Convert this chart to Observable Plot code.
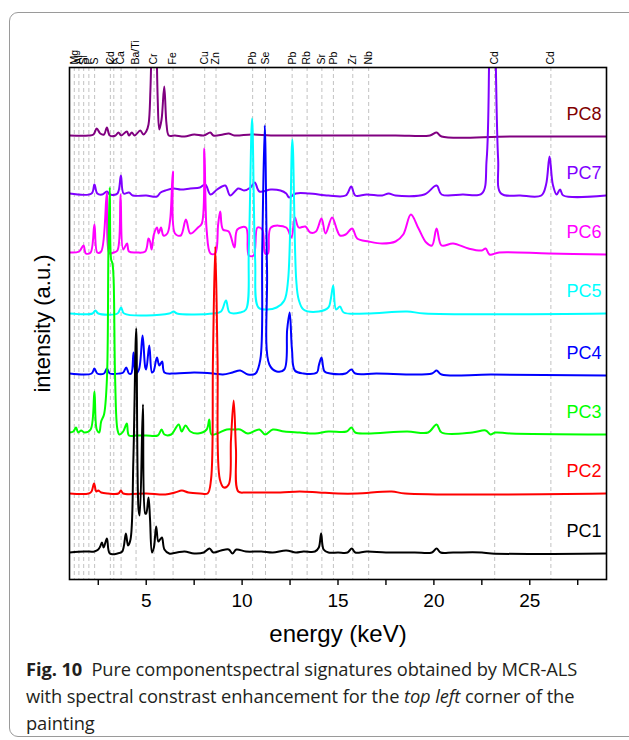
<!DOCTYPE html>
<html>
<head>
<meta charset="utf-8">
<script src="https://cdn.jsdelivr.net/npm/d3@7"></script>
<script src="https://cdn.jsdelivr.net/npm/@observablehq/plot@0.6"></script>
<style>
  html, body { margin: 0; padding: 0; background: #fff; }
  body { width: 629px; height: 740px; overflow: hidden; position: relative; }
  #box { position: absolute; left: 9px; top: 12px; width: 700px; height: 723px; border: 1px solid #9a9a9a; border-radius: 9px; }
  #chart { position: absolute; left: 0; top: 0; }
  #cap { position: absolute; left: 26px; top: 655px; font-family: "Open Sans", sans-serif; font-size: 18.3px; line-height: 27px; color: #231f20; white-space: nowrap; letter-spacing: -0.1px; }
  #cap b { font-weight: 700; }
</style>
</head>
<body>
<div id="box"></div>
<div id="chart"></div>
<div id="cap"><b>Fig. 10</b>&nbsp; Pure componentspectral signatures obtained by MCR-ALS<br>with spectral constrast enhancement for the <i>top left</i> corner of the<br>painting</div>
<script>
// element lines (keV) and their labels
const elementNames = ["Mg","Al","Si","P","S","Cd","K","Ca","Ba/Ti","Cr","Fe","Cu","Zn","Pb","Se","Pb","Rb","Sr","Pb","Zr","Nb","Cd","Cd"];
const elementEnergies = [1.25,1.49,1.74,2.01,2.31,3.13,3.31,3.69,4.47,5.41,6.40,8.05,8.64,10.55,11.22,12.61,13.39,14.16,14.76,15.77,16.6,23.17,26.1];

// x-axis ticks
const xTicks = [2.5,5,7.5,10,12.5,15,17.5,20,22.5,25,27.5];
const xTickLabels = ["","5","","10","","15","","20","","25",""];

// series names and colours
const seriesNames = ["PC1","PC2","PC3","PC4","PC5","PC6","PC7","PC8"];
const lineColors = ["#000000","#ff0000","#00ff00","#0000ff","#00ffff","#ff00ff","#8000ff","#800080"];
const labelColors = ["#000000","#ff0000","#00ff00","#0000ff","#00ffff","#ff00ff","#8000ff","#800000"];

// spectra: [energy keV, stacked intensity a.u.]
const pc1 = [[1.0,27],[1.8,28],[2.3,28],[2.5,30],[2.6,33],[2.69,37],[2.78,32],[2.95,41],[3.1,26],[3.5,26],[3.75,28],[3.94,46],[4.05,34],[4.18,40],[4.33,120],[4.48,251],[4.6,70],[4.66,64],[4.83,175],[4.95,66],[5.0,66],[5.12,82],[5.2,60],[5.3,27],[5.4,32],[5.52,53],[5.63,38],[5.72,40],[5.82,42],[5.95,30],[6.2,26],[6.6,27],[7.0,28],[7.5,26],[8.0,27],[8.3,31],[8.5,27],[8.9,29],[9.3,30],[9.5,26],[9.7,30],[10.2,28],[11.0,28],[11.6,27],[12.3,29],[12.8,27],[13.2,28],[13.8,28],[14.0,32],[14.12,46],[14.25,30],[14.5,27],[15.0,27],[15.5,27],[15.72,31],[15.9,27],[16.5,28],[17.5,27],[19.0,27],[19.9,27],[20.14,31],[20.35,27],[21.0,27],[22.5,27],[23.0,26],[29.0,26]];
const pc2 = [[1.0,86],[2.0,86],[2.15,88],[2.28,96],[2.4,88],[2.5,89],[2.65,87],[3.0,86],[3.55,86],[3.68,89],[3.8,86],[5.0,86],[6.0,85],[6.5,87],[6.86,89],[7.2,87],[7.8,86],[8.2,86],[8.38,100],[8.48,220],[8.6,333],[8.72,220],[8.84,100],[9.05,92],[9.3,95],[9.42,140],[9.56,179],[9.68,130],[9.8,88],[10.2,87],[11.0,87],[12.0,87],[13.0,88],[14.0,87],[15.0,86],[16.0,86],[17.8,88],[18.5,86],[29.0,86]];
const pc3 = [[1.0,147],[1.2,148],[1.34,152],[1.45,147],[1.6,149],[1.8,147],[2.1,150],[2.3,188],[2.42,150],[2.55,147],[2.65,158],[2.8,165],[2.95,200],[3.03,330],[3.1,392],[3.17,320],[3.24,316],[3.3,300],[3.38,200],[3.5,150],[3.6,145],[3.8,148],[3.99,156],[4.1,144],[4.5,144],[5.0,144],[5.6,144],[5.8,150],[5.95,145],[6.3,145],[6.69,155],[6.85,148],[7.05,154],[7.3,148],[7.7,146],[8.15,150],[8.29,160],[8.4,145],[8.7,146],[9.2,150],[9.6,150],[9.9,150],[10.3,146],[10.9,150],[11.2,145],[11.6,150],[12.2,148],[13.0,147],[13.8,146],[14.5,148],[15.45,148],[15.7,152],[15.9,147],[16.5,146],[18.6,148],[19.7,147],[20.14,155],[20.4,147],[22.0,147],[22.7,149],[22.95,145],[23.2,147],[24.0,146],[29.0,145]];
const pc4 = [[1.0,206],[2.15,206],[2.3,211],[2.45,206],[2.8,206],[2.95,211],[3.1,206],[3.6,206],[3.8,207],[3.96,212],[4.1,206],[4.22,206],[4.34,227],[4.45,206],[4.62,210],[4.81,244],[4.95,212],[5.0,210],[5.16,234],[5.3,207],[5.38,208],[5.56,222],[5.68,214],[5.83,218],[5.95,207],[6.5,206],[7.5,207],[8.5,206],[9.0,205],[9.5,207],[9.9,209],[10.3,205],[10.7,206],[10.95,220],[11.05,330],[11.18,454],[11.3,310],[11.42,215],[11.8,208],[12.2,210],[12.35,250],[12.48,267],[12.6,230],[12.75,209],[13.2,206],[13.9,207],[14.0,214],[14.14,222],[14.3,208],[14.6,206],[15.4,206],[15.7,210],[15.9,206],[17.0,206],[19.9,206],[20.14,209],[20.4,205],[23.0,205],[29.0,204]];
const pc5 = [[1.0,266],[2.2,266],[2.35,269],[2.5,266],[3.5,266],[3.69,272],[3.85,266],[6.2,266],[6.43,268],[6.6,266],[8.5,266],[8.9,268],[9.16,279],[9.35,267],[9.9,267],[10.2,270],[10.35,330],[10.52,461],[10.68,320],[10.85,272],[11.3,270],[11.8,272],[12.2,279],[12.4,300],[12.62,440],[12.82,300],[12.95,280],[13.2,270],[14.0,268],[14.5,272],[14.62,280],[14.75,294],[14.9,270],[15.1,273],[15.3,267],[16.5,266],[18.6,268],[19.5,266],[29.0,266]];
const pc6 = [[1.0,327],[1.5,328],[1.73,334],[1.85,326],[2.1,327],[2.3,355],[2.45,327],[2.65,328],[2.95,387],[3.08,326],[3.3,327],[3.5,329],[3.66,385],[3.8,330],[4.0,336],[4.1,328],[4.5,327],[4.95,328],[5.12,341],[5.2,338],[5.28,330],[5.4,345],[5.56,352],[5.65,346],[5.77,352],[5.9,344],[6.1,346],[6.25,360],[6.39,408],[6.5,346],[6.8,344],[7.07,360],[7.3,346],[7.7,352],[7.9,356],[8.03,431],[8.15,350],[8.35,326],[8.6,326],[8.75,355],[8.86,368],[9.0,350],[9.3,348],[9.6,332],[9.75,350],[10.2,352],[10.35,324],[10.6,324],[10.8,352],[11.05,350],[11.2,326],[11.35,326],[11.5,352],[12.3,352],[12.57,342],[12.75,362],[12.95,352],[13.3,353],[13.55,347],[13.85,348],[14.14,361],[14.35,346],[14.69,362],[14.96,349],[15.1,344],[15.4,345],[15.74,351],[16.0,341],[16.6,338],[17.3,336],[18.0,338],[18.4,345],[18.8,365],[19.2,351],[19.6,337],[19.9,334],[20.14,351],[20.4,334],[21.0,336],[21.8,331],[22.5,329],[22.7,331],[22.9,325],[23.4,327],[26.0,326],[29.0,325]];
const pc7 = [[1.0,386],[2.15,386],[2.3,395],[2.45,386],[2.7,385],[2.95,388],[3.1,385],[3.5,386],[3.68,404],[3.82,386],[4.1,387],[4.3,384],[5.0,384],[5.56,383],[5.75,387],[6.0,389],[6.43,391],[6.8,390],[7.3,391],[7.8,392],[8.08,395],[8.35,385],[8.7,390],[9.12,394],[9.38,384],[9.8,391],[10.1,389],[10.44,392],[10.66,397],[10.9,388],[11.5,390],[12.0,389],[12.3,386],[12.45,382],[12.8,386],[13.5,386],[14.5,384],[15.4,384],[15.69,393],[15.9,384],[16.5,385],[17.3,384],[17.64,386],[18.0,384],[19.5,385],[20.14,394],[20.4,385],[21.5,385],[22.5,386],[22.75,420],[22.9,540],[23.05,640],[23.2,540],[23.35,420],[23.5,386],[24.5,384],[25.6,384],[25.85,395],[26.03,423],[26.2,395],[26.4,385],[26.58,390],[26.75,384],[29.0,384]];
const pc8 = [[1.0,444],[2.0,444],[2.25,445],[2.42,451],[2.6,446],[2.8,445],[2.95,452],[3.1,444],[3.4,444],[3.55,447],[3.7,444],[3.99,448],[4.1,444],[4.25,447],[4.4,444],[4.69,449],[4.85,445],[5.0,448],[5.12,455],[5.22,490],[5.3,560],[5.41,660],[5.52,560],[5.6,480],[5.68,450],[5.8,460],[5.94,493],[6.06,455],[6.18,444],[6.5,444],[7.0,443],[7.5,445],[8.0,444],[8.34,447],[8.5,444],[9.0,445],[9.3,446],[9.6,444],[10.5,445],[11.5,444],[13.0,444],[15.0,444],[18.0,444],[19.8,444],[20.14,447],[20.4,443],[24.0,443],[29.0,443]];

const spectra = [pc1, pc2, pc3, pc4, pc5, pc6, pc7, pc8];

const elements = elementNames.map((name, i) => ({name, e: elementEnergies[i]}));
const labels = seriesNames.map((name, i) => ({name, y: spectra[i][spectra[i].length - 1][1], color: labelColors[i]}));

const lineMarks = [];
for (let i = spectra.length - 1; i >= 0; i--) {
  lineMarks.push(Plot.line(spectra[i], {x: d => d[0], y: d => d[1], stroke: lineColors[i], strokeWidth: 2, curve: "catmull-rom", clip: true}));
}

const chart = Plot.plot({
  width: 629,
  height: 650,
  marginLeft: 69,
  marginRight: 23,
  marginTop: 67,
  marginBottom: 71,
  style: {fontFamily: "'Liberation Sans', Arial, sans-serif", background: "transparent", color: "#000"},
  x: {domain: [1, 29]},
  y: {domain: [0, 512], axis: null},
  marks: [
    Plot.ruleX(elements, {x: "e", stroke: "#c2c2c2", strokeWidth: 1, strokeDasharray: "4,3"}),
    Plot.text(elements, {x: "e", text: "name", frameAnchor: "top", rotate: -90, textAnchor: "start", lineAnchor: "middle", dy: -3, fontSize: 10.5, fill: "#000"}),
    ...lineMarks,
    Plot.text(labels, {y: "y", text: "name", fill: "color", frameAnchor: "right", textAnchor: "end", dx: -5, dy: -22, fontSize: 18}),
    Plot.frame({stroke: "#000", strokeWidth: 1.6}),
    Plot.axisX({ticks: xTicks, tickFormat: (d) => xTickLabels[xTicks.indexOf(d)], tickSize: 6, tickPadding: 8, fontSize: 19, label: null, strokeWidth: 1.4}),
    Plot.text(["energy (keV)"], {frameAnchor: "bottom", lineAnchor: "middle", textAnchor: "middle", dy: 55, fontSize: 24}),
    Plot.text(["intensity (a.u.)"], {frameAnchor: "left", rotate: -90, textAnchor: "middle", lineAnchor: "middle", dx: -27, fontSize: 22})
  ]
});
document.getElementById("chart").appendChild(chart);
</script>
</body>
</html>
